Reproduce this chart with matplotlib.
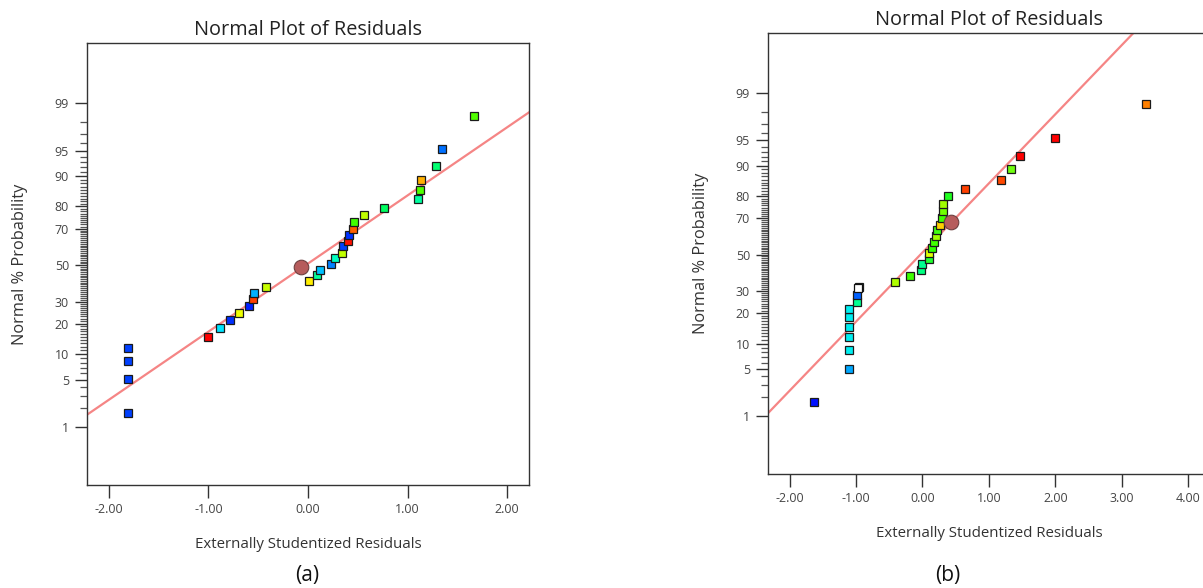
import matplotlib
matplotlib.use("Agg")
import matplotlib.pyplot as plt
from statistics import NormalDist

plt.rcParams['font.family'] = ['Open Sans', 'DejaVu Sans']

# ---------------- data (a) ----------------
resid_a = [-1.81, -1.81, -1.81, -1.81, -1.00, -0.88, -0.78, -0.69, -0.59, -0.55,
           -0.54, -0.42, 0.01, 0.09, 0.12, 0.23, 0.27, 0.34, 0.35, 0.40,
           0.41, 0.45, 0.46, 0.56, 0.76, 1.10, 1.13, 1.14, 1.29, 1.35, 1.67]
prob_a = [1.7, 5.05, 8.4, 11.8, 14.9, 18.2, 21.5, 24.7, 28.0, 31.3,
          34.4, 37.8, 41.1, 44.1, 47.3, 50.4, 54.0, 56.8, 60.7, 63.3,
          66.5, 69.7, 73.3, 76.2, 79.4, 82.7, 85.9, 89.0, 92.2, 95.2, 98.4]
colors_a = ['#0040ff', '#0040ff', '#0040ff', '#0040ff', '#ff0000', '#00e5ff', '#0030ff',
            '#eeff00', '#0020ff', '#ff4000', '#00b0ff', '#c8ff00', '#ffee00', '#00ff99',
            '#00c0ff', '#0080ff', '#00ffc0', '#c0ff00', '#0040ff', '#ff1000', '#0030ff',
            '#ff6000', '#40ff00', '#c0ff00', '#00ff60', '#00ffa0', '#50ff00', '#ffb000',
            '#00ff70', '#0070ff', '#50ff00']
circle_a = (-0.07, 48.9)
fit_a = (-0.022, 1.022)   # (mean, sd) of the fitted normal line

# ---------------- data (b) ----------------
resid_b = [-1.63, -1.11, -1.10, -1.10, -1.10, -1.10, -1.10, -0.99, -0.98, -0.955,
           -0.41, -0.19, -0.02, 0.00, 0.10, 0.10, 0.15, 0.17, 0.21, 0.22,
           0.26, 0.29, 0.31, 0.31, 0.39, 0.64, 1.19, 1.33, 1.47, 2.00, 3.37]
prob_b = [1.7, 5.0, 8.5, 11.7, 15.0, 18.3, 21.7, 24.9, 28.2, 31.9,
          34.8, 37.7, 41.3, 44.7, 47.5, 51.0, 53.8, 57.4, 60.8, 63.9,
          66.7, 70.0, 73.3, 76.6, 79.9, 82.7, 85.8, 89.2, 92.3, 95.4, 98.5]
colors_b = ['#0010ff', '#00a8ff', '#00eef0', '#00eef0', '#00eef0', '#00eef0', '#00eef0',
            '#00ff90', '#0060ff', '#00c8c8', '#b0ff00', '#40ff00', '#00ff80', '#00ff90',
            '#20ff30', '#e0ff00', '#30ff00', '#40ff00', '#a0ff00', '#40ff10', '#ffd000',
            '#40ff00', '#70ff00', '#a0ff00', '#20ff20', '#ff4000', '#ff4800', '#70ff10',
            '#ff0000', '#ff0000', '#ff8000']
highlight_b = (-0.97, 31.3)
circle_b = (0.43, 67.9)
fit_b = (-0.029, 1.005)

major_probs = [1, 5, 10, 20, 30, 50, 70, 80, 90, 95, 99]
minor_probs = [p for p in range(2, 99) if p not in major_probs]

nd = NormalDist()
def z(p):
    return nd.inv_cdf(p / 100.0)

W, H = 1203, 588
fig = plt.figure(figsize=(W / 100, H / 100), dpi=100)

def make_ax(left, top, right, bottom):
    return fig.add_axes([left / W, 1 - bottom / H, (right - left) / W, (bottom - top) / H])

ax_a = make_ax(87, 43, 529, 485)
ax_b = make_ax(768, 33, 1210, 474)

def style(ax, xlim, xticks):
    ax.set_xlim(*xlim)
    ax.set_ylim(-3.16, 3.19)
    ax.set_xticks(xticks)
    ax.set_xticklabels([f"{t:.2f}" for t in xticks])
    ax.set_yticks([z(p) for p in major_probs])
    ax.set_yticklabels([str(p) for p in major_probs])
    ax.set_yticks([z(p) for p in minor_probs], minor=True)
    ax.tick_params(axis='both', which='major', length=9, width=1.0, color='#333333',
                   labelsize=9, labelcolor='#444444', pad=4)
    ax.tick_params(axis='y', which='minor', length=5, width=0.9, color='#555555')
    for s in ax.spines.values():
        s.set_color('#333333')
        s.set_linewidth(1.0)
    ax.set_title("Normal Plot of Residuals", fontsize=14.3, color='#222222', pad=6)
    ax.set_xlabel("Externally Studentized Residuals", fontsize=10.8, color='#333333', labelpad=15)
    ax.set_ylabel("Normal % Probability", fontsize=11.8, color='#333333', labelpad=19)

def draw(ax, resid, prob, colors, fit, circle, xlim):
    mu, sd = fit
    xs = [xlim[0] - 0.5, xlim[1] + 0.5]
    ax.plot(xs, [(x - mu) / sd for x in xs], color='#f58585', lw=1.6, zorder=2)
    for x, p, c in zip(resid, prob, colors):
        ax.plot([x], [z(p)], marker='s', ms=6, mfc=c, mec='#1a1a1a', mew=0.9,
                ls='none', zorder=3)
    ax.plot([circle[0]], [z(circle[1])], marker='o', ms=10.5, mfc='#b65c5c',
            mec='#6e4040', mew=0.8, ls='none', zorder=4)

xlim_a = (-2.22, 2.22)
xlim_b = (-2.325, 4.33)
style(ax_a, xlim_a, [-2, -1, 0, 1, 2])
style(ax_b, xlim_b, [-2, -1, 0, 1, 2, 3, 4])
draw(ax_a, resid_a, prob_a, colors_a, fit_a, circle_a, xlim_a)
draw(ax_b, resid_b, prob_b, colors_b, fit_b, circle_b, xlim_b)
ax_b.plot([highlight_b[0]], [z(highlight_b[1])], marker='s', ms=6, mfc='white',
          mec='#111111', mew=0.9, ls='none', zorder=5)
ax_b.spines['right'].set_visible(False)

fig.text(307 / W, 1 - 575 / H, "(a)", fontsize=15, ha='center', va='center', color='#111111')
fig.text(948 / W, 1 - 575 / H, "(b)", fontsize=15, ha='center', va='center', color='#111111')

fig.savefig("out.png", dpi=100)
